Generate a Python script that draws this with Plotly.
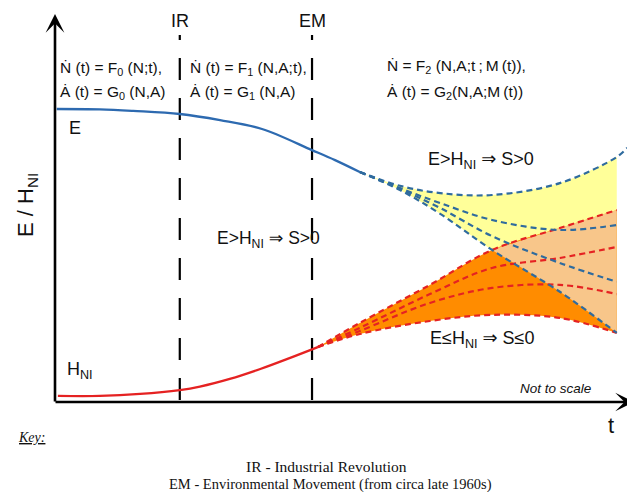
import plotly.graph_objects as go

# ---------------- data (t: 0-100 time units, level: 0-100 units) ----------------
t_E = [0.3, 7.8, 13.6, 21.7, 28.7, 36.0, 44.7, 48.7, 53.0]
E = [76.3, 76.2, 75.8, 75.0, 73.4, 71.1, 65.6, 63.0, 59.9]

t_H = [0.5, 7.8, 14.8, 21.7, 25.2, 30.4, 35.7, 40.9, 45.7]
H = [1.6, 1.6, 2.1, 3.1, 4.0, 6.0, 8.6, 11.5, 14.3]

# future scenarios of E (blue dashed)
t_Ef = [53.0, 60.0, 67.0, 76.0, 87.8, 97.7]
E_top_x = [53.0, 60.0, 67.0, 76.0, 87.8, 97.7, 99.5]
E_top = [59.9, 56.3, 54.4, 53.9, 57.0, 63.8, 66.2]
E_s2 = [59.9, 55.7, 51.8, 47.4, 44.8, 46.1]
E_s3 = [59.9, 55.5, 50.5, 43.2, 36.2, 31.3]
E_low = [59.9, 55.2, 49.0, 39.6, 28.7, 18.0]

# future scenarios of H_NI (red dashed)
t_Hf = [45.7, 53.0, 65.2, 76.0, 87.8, 97.7]
H_top = [14.3, 20.6, 30.5, 39.6, 45.3, 50.0]
H_s2 = [14.3, 19.3, 28.1, 34.9, 37.5, 40.4]
H_s3 = [14.3, 18.5, 25.8, 29.7, 30.5, 28.1]
H_low = [14.3, 17.7, 21.1, 22.7, 21.9, 18.0]

IR_t = 21.7
EM_t = 44.7

# ---------------- styling ----------------
BLUE = "#2D6AB0"
BLUE_D = "#2F6B9E"
RED = "#E52222"
YELLOW = "#FFFF99"
ORANGE = "#FF8C00"
PEACH = "#F8C68A"
SANS = "Liberation Sans, Arial, DejaVu Sans, sans-serif"
SERIF = "Liberation Serif, Times New Roman, serif"

PAGE_OFF = 8                 # default body margin of the page
W, Hpx = 635 - PAGE_OFF, 492 - PAGE_OFF
X0, XS = 55 - PAGE_OFF, 5.75    # pixel of t=0, pixels per t unit
Y0, YS = 402 - PAGE_OFF, 3.84   # pixel of level 0, pixels per level unit


def tx(px):
    """page pixel x -> t units"""
    return (px - PAGE_OFF - X0) / XS


def vy(py):
    """page pixel y -> level units"""
    return (Y0 - (py - PAGE_OFF)) / YS


fig = go.Figure()


def line(x, y, color, width=2.2, dash=None, shape="spline"):
    fig.add_trace(go.Scatter(
        x=x, y=y, mode="lines",
        line=dict(color=color, width=width, dash=dash, shape=shape, smoothing=1.0),
        hoverinfo="skip", showlegend=False))


def fill_band(xl, yl, xu, yu, color):
    fig.add_trace(go.Scatter(x=xl, y=yl, mode="lines",
                             line=dict(width=0, shape="spline", color=color),
                             hoverinfo="skip", showlegend=False))
    fig.add_trace(go.Scatter(x=xu, y=yu, mode="lines",
                             line=dict(width=0, shape="spline", color=color),
                             fill="tonexty", fillcolor=color,
                             hoverinfo="skip", showlegend=False))


# bands
n = len(t_Ef)
fill_band(t_Ef, E_low, E_top_x[:n], E_top[:n], YELLOW)
fill_band(t_Hf, H_low, t_Hf, H_top, ORANGE)
k = t_Ef.index(76.0)
kh = t_Hf.index(76.0)
fill_band(t_Ef[k:], E_low[k:], t_Hf[kh:], H_top[kh:], PEACH)

# vertical dashed markers
for tv in (IR_t, EM_t):
    line([tv, tv], [vy(400), vy(35)], "black", width=2.2, dash="22px,18px", shape="linear")

# history curves
line(t_E, E, BLUE, width=2.3)
line(t_H, H, RED, width=2.3)

# scenario curves
for ys in (H_top, H_s2, H_s3, H_low):
    line(t_Hf, ys, RED, width=2.2, dash="6px,4px")
line(E_top_x, E_top, BLUE_D, width=2.2, dash="6px,4px")
for ys in (E_s2, E_s3, E_low):
    line(t_Ef, ys, BLUE_D, width=2.2, dash="6px,4px")

ann = []

# axes with arrows
ann.append(dict(x=tx(55), y=vy(14), ax=tx(55), ay=vy(403), xref="x", yref="y",
                axref="x", ayref="y", showarrow=True, arrowhead=3, arrowsize=1.2,
                arrowwidth=2.6, arrowcolor="black", text=""))
ann.append(dict(x=tx(634), y=vy(402), ax=tx(54), ay=vy(402), xref="x", yref="y",
                axref="x", ayref="y", showarrow=True, arrowhead=3, arrowsize=1.2,
                arrowwidth=2.6, arrowcolor="black", text=""))


def txt(s, px, py, size, xanchor="center", family=SANS, angle=0, color="#111111"):
    ann.append(dict(x=tx(px), y=vy(py), xref="x", yref="y", text=s, showarrow=False,
                    xanchor=xanchor, yanchor="middle", textangle=angle,
                    font=dict(family=family, size=size, color=color)))


ts = "\u2009"  # thin space
txt("IR", 180, 21, 18)
txt("EM", 312, 21, 18)
txt("Ṅ (t) = F<sub>0</sub> (N;t),", 58, 68, 15.5, "left")
txt("Ȧ (t) = G<sub>0</sub> (N,A)", 58, 92, 15.5, "left")
txt("Ṅ (t) = F<sub>1</sub> (N,A;t),", 188, 68, 15.5, "left")
txt("Ȧ (t) = G<sub>1</sub> (N,A)", 188, 92, 15.5, "left")
txt(f"Ṅ = F<sub>2</sub> (N,A;t{ts};{ts}M{ts}(t)),", 385, 66, 15.5, "left")
txt(f"Ȧ (t) = G<sub>2</sub>(N,A;M{ts}(t))", 385, 92, 15.5, "left")
txt("E", 67, 128, 18, "left")
txt("H<sub>NI</sub>", 65, 370, 18, "left")
txt("E / H<sub>NI</sub>", 27, 205, 22, angle=-90)
txt("E>H<sub>NI</sub> ⇒ S>0", 268, 239, 17.5)
txt("E>H<sub>NI</sub> ⇒ S>0", 481, 160, 18)
txt("E≤H<sub>NI</sub> ⇒ S≤0", 482, 339, 18)
txt("<i>Not to scale</i>", 555, 388, 13.5)
txt("t", 611, 425, 22)
txt("<i><u>Key:</u></i>", 16, 437, 14, "left", family=SERIF)
txt("IR - Industrial Revolution", 326, 466, 15.5, family=SERIF)
txt("EM - Environmental Movement (from circa late 1960s)", 330, 484, 14.5, family=SERIF)

fig.update_layout(
    width=W, height=Hpx,
    margin=dict(l=0, r=0, t=0, b=0),
    paper_bgcolor="white", plot_bgcolor="white",
    showlegend=False,
    xaxis=dict(visible=False, range=[tx(PAGE_OFF), tx(PAGE_OFF + W)], fixedrange=True),
    yaxis=dict(visible=False, range=[vy(PAGE_OFF + Hpx), vy(PAGE_OFF)], fixedrange=True),
    annotations=ann,
)

fig.write_html("out.html", config={"displayModeBar": False})
